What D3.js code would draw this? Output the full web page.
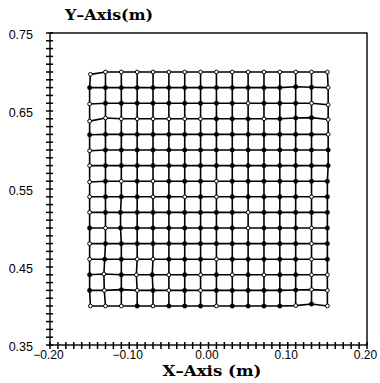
<!DOCTYPE html>
<html>
<head>
<meta charset="utf-8">
<script src="https://cdn.jsdelivr.net/npm/d3@7"></script>
<style>
  body { margin: 0; background: #fff; }
  svg { display: block; }
</style>
</head>
<body>
<div id="chart"></div>
<script>
// nominal node positions of the mesh (m)
const gridX = [-0.15, -0.13, -0.11, -0.09, -0.07, -0.05, -0.03, -0.01, 0.01, 0.03, 0.05, 0.07, 0.09, 0.11, 0.13, 0.15];
const gridY = [0.70, 0.68, 0.66, 0.64, 0.62, 0.60, 0.58, 0.56, 0.54, 0.52, 0.50, 0.48, 0.46, 0.44, 0.42, 0.40];

// marker of every node, one string per row from the top: o = open circle, x = filled dot
const nodeType = [
  'oooooooooooooooo',
  'xxxxxxxxxxxxxxxo',
  'oxxxxxxxxxoxxxoo',
  'ooooooooxxxoxxxo',
  'xxxxxxxxxxxxxxxo',
  'oxxxxxxxxxxxxxxx',
  'oxxxxxxxxxxxxxxx',
  'oxoxoxxxoxxxxxxx',
  'oxxxoxoxoxxxxxox',
  'oxxxxxxxxxoxxxxx',
  'xoxxxxxxxxoxxxox',
  'oxxxxxxxxxxxxxox',
  'oxxooxxxoxxxxxox',
  'xoxoxoxoxoxoxxoo',
  'xoxoxoxoxxxxxxoo',
  'oooxoxxxoxxxxoxo'
];

// measured displacement from the nominal node (mm), one array per row
const dxMm = [
  [1, 0, 0, 0, 0, 0, 0, 0, 0, 0, 0, 0, 0, 0, 0, 0],
  [0, 0, 0, 0, 0, 0, 0, 0, 0, 0, 0, 0, 0, 0, 0, 1],
  [0, 0, 0, 0, 0, 0, 0, 0, 0, 0, 0, 0, 0, 0, 0, 1],
  [0, 0, 0, 0, 0, 0, 0, 0, 0, 0, 0, 0, 0, 0, 0, 1],
  [0, 0, 0, 0, 0, 0, 0, 0, 0, 0, 0, 0, 0, 0, 0, 1],
  [0, 0, 0, 0, 0, 0, 0, 0, 0, 0, 0, 0, 0, 0, 0, 1],
  [0, 0, 0, 0, 0, 0, 0, 0, 0, 0, 0, 0, 0, 0, 0, 1],
  [0, 0, 0, 0, 0, 0, 0, 0, 0, 0, 0, 0, 0, 0, 0, 0],
  [0, 0, 0, 0, 0, 0, 0, 0, 0, 0, 0, 0, 0, 0, 0, 0],
  [0, 0, -1, 0, 0, 0, 0, 0, 0, 0, 0, 0, 0, 0, 0, 0],
  [0, 0, -1, 0, 0, 0, 0, 0, 0, 0, 0, 0, 0, 0, 0, 0],
  [0, 0, 0, 0, 0, 0, 0, 0, 0, 0, 0, 0, 0, 0, 0, 0],
  [0, -1, 0, 0, 0, 0, 0, 0, 0, 0, 0, 0, 0, 0, 0, 0],
  [0, -2, 0, -1, -1, 0, 0, 0, 0, 0, 0, 0, 0, 0, 0, 0],
  [0, -1.5, 0, 0, 0, 0, 0, 0, 0, 0, 0, 0, 0, 0, 0, 0],
  [1, 0, 0, 0, 0, 0, 0, 0, 0, 0, 0, 0, 0, 0, 0, 0]
];
const dyMm = [
  [-3, 0, 0, 0, 0, 0, 0, 0, 0, 0, 0, 0, 0, 0, 0, 0],
  [0, 0, 0, 0, 0, 0, 0, 0, 0, 0, 0, 0, 0, 1, 0.5, 0],
  [-1, 0, 0, 0, 0, 0, 0, 0, 0, 0, 0, 0, 0, 0, 0, -2],
  [-3, 1, 0, 0, 0, 0, 0, 0, 0, 0, 0, 0, 0, 1, 1.5, -1],
  [-0.5, 0, 0, 0, 0, 0, 0, 0, 0, 0, 0, 0, 0, 0, 0, 0],
  [-1, 0, 0, 0, 0, 0, 0, 0, 0, 0, 0, 0, 0, 0, 0, 0],
  [0, 0, 0, 0, 0, 0, 0, 0, 0, 0, 0, 0, 0, 0, 0, 0],
  [-1, 0, 0, 0, 0, 0, 0, 0, 0, 0, 0, 0, 0, 0, 0, 0],
  [0, 0, 0, 0, 0, 0, 0, 0, 0, 0, 0, 0, 0, 0, 0, 0],
  [0, 0, 0, 0, 0, 0, 0, 0, 0, 0, 0, 0, 0, 0, 0, 0],
  [0, 0, 0, 0, 0, 0, 0, 0, 0, 0, 0, 0, 0, 0, 0, 0],
  [0, 0, 0, 0, 0, 0, 0, 0, 0, 0, 0, 0, 0, 0, 0, 0],
  [0, 0, 0, 0, 0, 0, 0, 0, 0, 0, 0, 0, 0, 0, 0, 0],
  [0, 1, 0, 0, 0, 0, 0, 0, 0, 0, 0, 0, 0, 0, 0, 0],
  [0, 0, 1, 0, 0, 0, 0, 0, 0, 0, 0, 0, 0, 0.5, 1, 0],
  [0, 0, 0, 0, 0, 0, 0, 0, 0, 0, 0, 0, 0, 0.5, 2.5, 0]
];

const xTickLabels = [-0.20, -0.10, 0.00, 0.10, 0.20];
const yTickLabels = [0.35, 0.45, 0.55, 0.65, 0.75];

const width = 380, height = 383;
const margin = { top: 33, right: 13, bottom: 38, left: 50 };

const svg = d3.select('#chart')
  .append('svg')
  .attr('width', width)
  .attr('height', height);

const x = d3.scaleLinear().domain([-0.2, 0.2]).range([margin.left, width - margin.right]);
const y = d3.scaleLinear().domain([0.35, 0.75]).range([height - margin.bottom, margin.top]);

// build nodes
const nodes = gridY.map((gy, r) => gridX.map((gx, c) => ({
  x: gx + dxMm[r][c] / 1000,
  y: gy + dyMm[r][c] / 1000,
  open: nodeType[r][c] === 'o'
})));

// frame
svg.append('rect')
  .attr('x', x(-0.2))
  .attr('y', y(0.75))
  .attr('width', x(0.2) - x(-0.2))
  .attr('height', y(0.35) - y(0.75))
  .attr('fill', 'none')
  .attr('stroke', '#000')
  .attr('stroke-width', 1.4);

// minor ticks every 0.01 on left and bottom axes, crossing the axis line
const ticks = svg.append('g')
  .attr('stroke', '#000')
  .attr('stroke-width', 1.5);

ticks.selectAll('.ytick')
  .data(y.ticks(40))
  .enter()
  .append('line')
  .attr('class', 'ytick')
  .attr('x1', x(-0.2) - 4)
  .attr('x2', x(-0.2) + 3)
  .attr('y1', d => y(d))
  .attr('y2', d => y(d));

ticks.selectAll('.xtick')
  .data(x.ticks(40))
  .enter()
  .append('line')
  .attr('class', 'xtick')
  .attr('x1', d => x(d))
  .attr('x2', d => x(d))
  .attr('y1', y(0.35) - 3)
  .attr('y2', y(0.35) + 4);

// tick labels
svg.append('g')
  .attr('transform', 'translate(' + x(-0.2) + ',0)')
  .call(d3.axisLeft(y).tickValues(yTickLabels).tickSize(0).tickPadding(17).tickFormat(d3.format('.2f')))
  .call(g => g.select('.domain').remove())
  .call(g => g.selectAll('text')
    .attr('font-family', 'Liberation Sans, Arial, sans-serif')
    .attr('font-size', 12.5)
    .attr('dy', '0.45em')
    .attr('fill', '#000'));

svg.append('g')
  .attr('transform', 'translate(-2,' + y(0.35) + ')')
  .call(d3.axisBottom(x).tickValues(xTickLabels).tickSize(0).tickPadding(5)
    .tickFormat(d => d3.format('.2f')(d).replace('-', '\u2212')))
  .call(g => g.select('.domain').remove())
  .call(g => g.selectAll('text')
    .attr('font-family', 'Liberation Sans, Arial, sans-serif')
    .attr('font-size', 12)
    .attr('fill', '#000'));

// axis titles
svg.append('text')
  .attr('x', 109)
  .attr('y', 20)
  .attr('text-anchor', 'middle')
  .attr('font-family', 'DejaVu Serif, serif')
  .attr('font-weight', 'bold')
  .attr('font-size', 15)
  .attr('textLength', 88)
  .attr('lengthAdjust', 'spacingAndGlyphs')
  .text('Y\u2013Axis(m)');

svg.append('text')
  .attr('x', 212)
  .attr('y', 376)
  .attr('text-anchor', 'middle')
  .attr('font-family', 'DejaVu Serif, serif')
  .attr('font-weight', 'bold')
  .attr('font-size', 15.5)
  .attr('textLength', 99)
  .attr('lengthAdjust', 'spacingAndGlyphs')
  .text('X\u2013Axis (m)');

// mesh lines: rows then columns
const line = d3.line().x(d => x(d.x)).y(d => y(d.y));
const rows = nodes;
const cols = gridX.map((_, c) => nodes.map(row => row[c]));

const mesh = svg.append('g')
  .attr('fill', 'none')
  .attr('stroke', '#000')
  .attr('stroke-width', 1.6);

mesh.selectAll('.row')
  .data(rows)
  .enter()
  .append('path')
  .attr('class', 'row')
  .attr('d', line);

mesh.selectAll('.col')
  .data(cols)
  .enter()
  .append('path')
  .attr('class', 'col')
  .attr('d', line);

// node markers
svg.append('g')
  .selectAll('circle')
  .data(nodes.flat())
  .enter()
  .append('circle')
  .attr('cx', d => x(d.x))
  .attr('cy', d => y(d.y))
  .attr('r', d => d.open ? 1.9 : 2.2)
  .attr('fill', d => d.open ? '#fff' : '#000')
  .attr('stroke', '#000')
  .attr('stroke-width', d => d.open ? 1 : 0.5);
</script>
</body>
</html>
